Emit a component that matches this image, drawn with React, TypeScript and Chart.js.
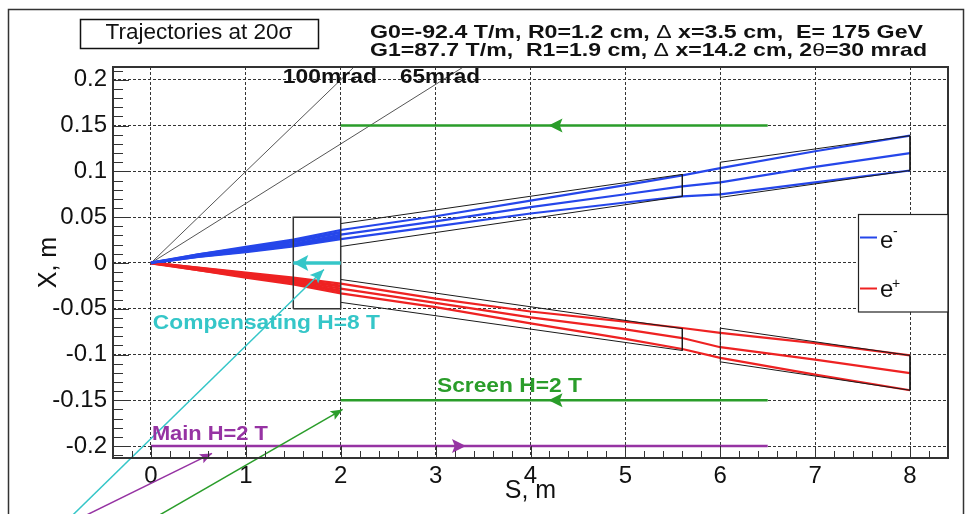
import React, { useEffect, useRef } from 'react';
import { Chart, registerables } from 'chart.js';

Chart.register(...registerables);

// ---------------- axes ----------------
const xTickValues = [0, 1, 2, 3, 4, 5, 6, 7, 8];
const yTickValues = [-0.2, -0.15, -0.1, -0.05, 0, 0.05, 0.1, 0.15, 0.2];
const xRange = [-0.4, 8.4];
const yRange = [-0.213, 0.214];

// ---------------- trajectories (S in m, X in m) ----------------
const sTraj = [0, 0.5, 1, 1.5, 2, 3, 4, 5, 5.6, 6, 7, 8];
const eMinusUpper = [0, 0.0095, 0.0175, 0.0255, 0.036, 0.051, 0.068, 0.085, 0.0956, 0.1036, 0.122, 0.139];
const eMinusMiddle = [0, 0.008, 0.0145, 0.021, 0.031, 0.0455, 0.061, 0.075, 0.0836, 0.088, 0.105, 0.12];
const eMinusLower = [0, 0.0065, 0.0118, 0.018, 0.026, 0.04, 0.054, 0.066, 0.0727, 0.075, 0.088, 0.101];
const ePlusUpper = [0, -0.005, -0.0105, -0.016, -0.0225, -0.039, -0.053, -0.064, -0.071, -0.0763, -0.0876, -0.101];
const ePlusMiddle = [0, -0.0065, -0.013, -0.0195, -0.028, -0.0435, -0.0595, -0.0725, -0.082, -0.092, -0.1055, -0.1204];
const ePlusLower = [0, -0.008, -0.016, -0.0235, -0.0333, -0.0483, -0.066, -0.083, -0.094, -0.1036, -0.122, -0.139];

// dense part of the beam fan inside the first 2 m
const sBand = [0, 0.5, 1, 1.5, 2];
const eMinusBandA = [0, 0.0088, 0.016, 0.0233, 0.0335];
const eMinusBandB = [0, 0.0073, 0.0132, 0.0195, 0.0285];
const ePlusBandA = [0, -0.0058, -0.0118, -0.0178, -0.0253];
const ePlusBandB = [0, -0.0073, -0.0145, -0.0215, -0.0307];

// ---------------- apertures (black outlines) ----------------
const apMinus1S = [2, 5.6, 5.6, 2];
const apMinus1X = [0.043, 0.0967, 0.0727, 0.018];
const apMinus2S = [6, 8, 8, 6, 6];
const apMinus2X = [0.11, 0.139, 0.101, 0.0716, 0.11];
const apPlus1S = [2, 5.6, 5.6, 2];
const apPlus1X = [-0.018, -0.0717, -0.0956, -0.043];
const apPlus2S = [6, 8, 8, 6, 6];
const apPlus2X = [-0.0712, -0.101, -0.139, -0.108, -0.0712];
const compBoxS = [1.5, 2, 2, 1.5, 1.5];
const compBoxX = [-0.05, -0.05, 0.05, 0.05, -0.05];

// ---------------- crossing angle rays ----------------
const ray100S = [0, 3];
const ray100X = [0, 0.3];
const ray65S = [0, 4];
const ray65X = [0, 0.26];

// ---------------- field directions ----------------
const screenS = [6.5, 2];
const screenTopX = [0.15, 0.15];
const screenBottomX = [-0.15, -0.15];
const mainS = [0, 6.5];
const mainX = [-0.2, -0.2];
const compS = [2, 1.5];
const compX = [0, 0];
const screenArrowTipS = 4.19;
const mainArrowTipS = 3.32;

// ---------------- pointer arrows ----------------
const cyanPtrS = [-0.9, 1.823];
const cyanPtrX = [-0.283, -0.0071];
const purplePtrS = [-0.831, 0.643];
const purplePtrX = [-0.283, -0.208];
const greenPtrS = [-0.039, 2.02];
const greenPtrX = [-0.283, -0.16];

const BLUE = '#2546ea';
const RED = '#ee2222';
const GREEN = '#2a9d2a';
const PURPLE = '#9633a3';
const CYAN = '#35c6c8';
const SANS = '"Liberation Sans", Arial, Helvetica, sans-serif';

const pts = (xs: number[], ys: number[]) => xs.map((s, i) => ({ x: s, y: ys[i] }));

const mk = (label: string, xs: number[], ys: number[], color: string, width: number, order: number, extra: any = {}) => ({
  label,
  data: pts(xs, ys),
  borderColor: color,
  backgroundColor: color,
  borderWidth: width,
  pointRadius: 0,
  pointHoverRadius: 0,
  fill: false,
  tension: 0,
  order,
  ...extra,
});

function drawRuns(ctx: CanvasRenderingContext2D, runs: [string, string][], x: number, y: number, color: string, targetWidth?: number, align: 'left' | 'center' = 'left') {
  ctx.save();
  ctx.textBaseline = 'middle';
  ctx.textAlign = 'left';
  let total = 0;
  const widths = runs.map(([t, f]) => {
    ctx.font = f;
    const w = ctx.measureText(t).width;
    total += w;
    return w;
  });
  const sx = targetWidth ? targetWidth / total : 1;
  ctx.translate(align === 'center' ? x - (total * sx) / 2 : x, y);
  ctx.scale(sx, 1);
  ctx.fillStyle = color;
  let cx = 0;
  runs.forEach(([t, f], i) => {
    ctx.font = f;
    ctx.fillText(t, cx, 0);
    cx += widths[i];
  });
  ctx.restore();
}

function arrowHead(ctx: CanvasRenderingContext2D, fx: number, fy: number, tx: number, ty: number, len: number, half: number, color: string) {
  const ang = Math.atan2(ty - fy, tx - fx);
  ctx.save();
  ctx.translate(tx, ty);
  ctx.rotate(ang);
  ctx.beginPath();
  ctx.moveTo(0, 0);
  ctx.lineTo(-len, -half);
  ctx.lineTo(-len * 0.8, 0);
  ctx.lineTo(-len, half);
  ctx.closePath();
  ctx.fillStyle = color;
  ctx.fill();
  ctx.restore();
}

const decorPlugin = {
  id: 'decor',
  afterDatasetsDraw(chart: any) {
    const { ctx, chartArea: ca, scales } = chart;
    const xs = scales.x;
    const ys = scales.y;
    const px = (v: number) => xs.getPixelForValue(v);
    const py = (v: number) => ys.getPixelForValue(v);

    // arrow heads
    const specs: [number, number, number, number, number, number, string][] = [
      [screenS[0], screenTopX[0], screenArrowTipS, screenTopX[0], 14, 7, GREEN],
      [screenS[0], screenBottomX[0], screenArrowTipS, screenBottomX[0], 14, 7, GREEN],
      [mainS[0], mainX[0], mainArrowTipS, mainX[0], 14, 7, PURPLE],
      [compS[0], compX[0], compS[1], compX[1], 15, 8, CYAN],
      [cyanPtrS[0], cyanPtrX[0], cyanPtrS[1], cyanPtrX[1], 14, 6, CYAN],
      [purplePtrS[0], purplePtrX[0], purplePtrS[1], purplePtrX[1], 12, 5, PURPLE],
      [greenPtrS[0], greenPtrX[0], greenPtrS[1], greenPtrX[1], 12, 5, GREEN],
    ];
    specs.forEach(([fs, fx, ts, tx, len, half, c]) => arrowHead(ctx, px(fs), py(fx), px(ts), py(tx), len, half, c));

    // inner ticks
    ctx.save();
    ctx.strokeStyle = '#333';
    ctx.lineWidth = 1;
    ctx.beginPath();
    for (let k = -25; k <= 25; k++) {
      const y = Math.round(py(k / 100)) + 0.5;
      if (y < ca.top || y > ca.bottom) continue;
      const len = k % 5 === 0 ? 16 : 10;
      ctx.moveTo(ca.left, y);
      ctx.lineTo(ca.left + len, y);
    }
    for (let k = -5; k <= 45; k++) {
      const x = Math.round(px(k / 5)) + 0.5;
      if (x < ca.left || x > ca.right) continue;
      const len = k % 5 === 0 ? 12 : 7;
      ctx.moveTo(x, ca.bottom);
      ctx.lineTo(x, ca.bottom - len);
    }
    ctx.stroke();
    // frame
    ctx.strokeStyle = '#333';
    ctx.lineWidth = 2;
    ctx.strokeRect(ca.left, ca.top, ca.right - ca.left, ca.bottom - ca.top);
    ctx.restore();
  },
  afterDraw(chart: any) {
    const { ctx, scales } = chart;
    const xs = scales.x;
    const ys = scales.y;
    const px = (v: number) => xs.getPixelForValue(v);
    const py = (v: number) => ys.getPixelForValue(v);
    const B = (s: number) => `bold ${s}px ${SANS}`;
    const R = (s: number) => `${s}px ${SANS}`;

    // outer frame
    ctx.save();
    ctx.strokeStyle = '#333';
    ctx.lineWidth = 1.5;
    ctx.strokeRect(8.5, 9.5, 955, 600);
    // title box
    ctx.lineWidth = 1.5;
    ctx.strokeStyle = '#111';
    ctx.strokeRect(80.5, 19.5, 238, 29);
    ctx.restore();
    drawRuns(ctx, [['Trajectories at 20σ', R(22)]], 199, 33, '#111', 187, 'center');

    // header
    drawRuns(ctx, [['G0=-92.4 T/m, R0=1.2 cm, ', B(19)], ['Δ', R(19)], [' x=3.5 cm,  E= 175 GeV', B(19)]], 370, 32.5, '#111', 553);
    drawRuns(ctx, [['G1=87.7 T/m,  R1=1.9 cm, ', B(19)], ['Δ', R(19)], [' x=14.2 cm, 2', B(19)], ['θ', R(19)], ['=30 mrad', B(19)]], 370, 51, '#111', 557);

    // annotations (anchored in data coordinates)
    drawRuns(ctx, [['100mrad', B(21)]], px(1.39), py(0.2027), '#111', 94);
    drawRuns(ctx, [['65mrad', B(21)]], px(2.624), py(0.2027), '#111', 80);
    drawRuns(ctx, [['Compensating H=8 T', B(21)]], px(0.02), py(-0.0654), CYAN, 227);
    drawRuns(ctx, [['Screen H=2 T', B(21)]], px(3.014), py(-0.135), GREEN, 145);
    drawRuns(ctx, [['Main H=2 T', B(21)]], px(0.01), py(-0.1865), PURPLE, 116);

    // legend
    ctx.save();
    ctx.fillStyle = '#fff';
    ctx.fillRect(858, 214, 90, 98);
    ctx.strokeStyle = '#222';
    ctx.lineWidth = 1.2;
    ctx.strokeRect(858.5, 214.5, 89.5, 97.5);
    ctx.lineWidth = 2;
    ctx.strokeStyle = BLUE;
    ctx.beginPath();
    ctx.moveTo(860, 237.5);
    ctx.lineTo(877, 237.5);
    ctx.stroke();
    ctx.strokeStyle = RED;
    ctx.beginPath();
    ctx.moveTo(860, 288.5);
    ctx.lineTo(877, 288.5);
    ctx.stroke();
    ctx.fillStyle = '#111';
    ctx.textBaseline = 'alphabetic';
    ctx.textAlign = 'left';
    ctx.font = R(24);
    ctx.fillText('e', 880, 248);
    ctx.fillText('e', 880, 297);
    ctx.font = R(14);
    ctx.fillText('-', 893, 236);
    ctx.fillText('+', 892, 288);
    ctx.restore();
  },
};

const fmt = (v: any) => String(Math.round(Number(v) * 1000) / 1000);

export default function App() {
  const ref = useRef<HTMLCanvasElement>(null);
  useEffect(() => {
    const datasets: any[] = [
      mk('100 mrad', ray100S, ray100X, '#555', 1, 10),
      mk('65 mrad', ray65S, ray65X, '#555', 1, 10),
      mk('e- band A', sBand, eMinusBandA, BLUE, 3.2, 7),
      mk('e- band B', sBand, eMinusBandB, BLUE, 3.2, 7),
      mk('e+ band A', sBand, ePlusBandA, RED, 3.2, 7),
      mk('e+ band B', sBand, ePlusBandB, RED, 3.2, 7),
      mk('e- upper', sTraj, eMinusUpper, BLUE, 2.2, 6),
      mk('e- middle', sTraj, eMinusMiddle, BLUE, 2.2, 6),
      mk('e- lower', sTraj, eMinusLower, BLUE, 2.2, 6),
      mk('e+ upper', sTraj, ePlusUpper, RED, 2.2, 6),
      mk('e+ middle', sTraj, ePlusMiddle, RED, 2.2, 6),
      mk('e+ lower', sTraj, ePlusLower, RED, 2.2, 6),
      mk('aperture e- 1', apMinus1S, apMinus1X, '#1a1a1a', 1, 5),
      mk('aperture e- 2', apMinus2S, apMinus2X, '#1a1a1a', 1, 5),
      mk('aperture e+ 1', apPlus1S, apPlus1X, '#1a1a1a', 1, 5),
      mk('aperture e+ 2', apPlus2S, apPlus2X, '#1a1a1a', 1, 5),
      mk('compensating magnet', compBoxS, compBoxX, '#333', 1.5, 4),
      mk('screen top', screenS, screenTopX, GREEN, 2.5, 3),
      mk('screen bottom', screenS, screenBottomX, GREEN, 2.5, 3),
      mk('main', mainS, mainX, PURPLE, 2.5, 3),
      mk('compensating', compS, compX, CYAN, 3.5, 2),
      mk('ptr cyan', cyanPtrS, cyanPtrX, CYAN, 1.5, 1, { clip: false }),
      mk('ptr purple', purplePtrS, purplePtrX, PURPLE, 1.5, 1, { clip: false }),
      mk('ptr green', greenPtrS, greenPtrX, GREEN, 1.5, 1, { clip: false }),
    ];
    const tickFont = { family: SANS, size: 24 };
    const chart = new Chart(ref.current as HTMLCanvasElement, {
      type: 'line',
      data: { datasets },
      options: {
        animation: false,
        responsive: true,
        maintainAspectRatio: false,
        events: [],
        layout: { padding: { left: 0, right: 18, top: 67, bottom: 0 } },
        plugins: { legend: { display: false }, tooltip: { enabled: false }, title: { display: false } },
        scales: {
          x: {
            type: 'linear',
            min: xRange[0],
            max: xRange[1],
            afterBuildTicks: (s: any) => { s.ticks = xTickValues.map((v) => ({ value: v })); },
            afterFit: (s: any) => { s.height = 56; },
            ticks: { font: tickFont, color: '#111', padding: 4, maxRotation: 0, autoSkip: false, callback: fmt },
            grid: { color: '#333', lineWidth: 1, drawTicks: false },
            border: { display: false, dash: [3, 2] },
            title: { display: true, text: 'S, m', color: '#111', font: { family: SANS, size: 25 }, padding: { top: 0, bottom: 8 } },
          },
          y: {
            type: 'linear',
            min: yRange[0],
            max: yRange[1],
            afterBuildTicks: (s: any) => { s.ticks = yTickValues.map((v) => ({ value: v })); },
            afterFit: (s: any) => { s.width = 113; },
            ticks: { font: tickFont, color: '#111', padding: 6, autoSkip: false, callback: fmt },
            grid: { color: '#333', lineWidth: 1, drawTicks: false },
            border: { display: false, dash: [3, 2] },
            title: { display: true, text: 'X, m', color: '#111', font: { family: SANS, size: 25 }, padding: { top: 34, bottom: 0 } },
          },
        },
      } as any,
      plugins: [decorPlugin],
    });
    return () => chart.destroy();
  }, []);
  return (
    <div style={{ position: 'fixed', left: 0, top: 0, width: 966, height: 514, background: '#fff' }}>
      <canvas ref={ref} />
    </div>
  );
}
